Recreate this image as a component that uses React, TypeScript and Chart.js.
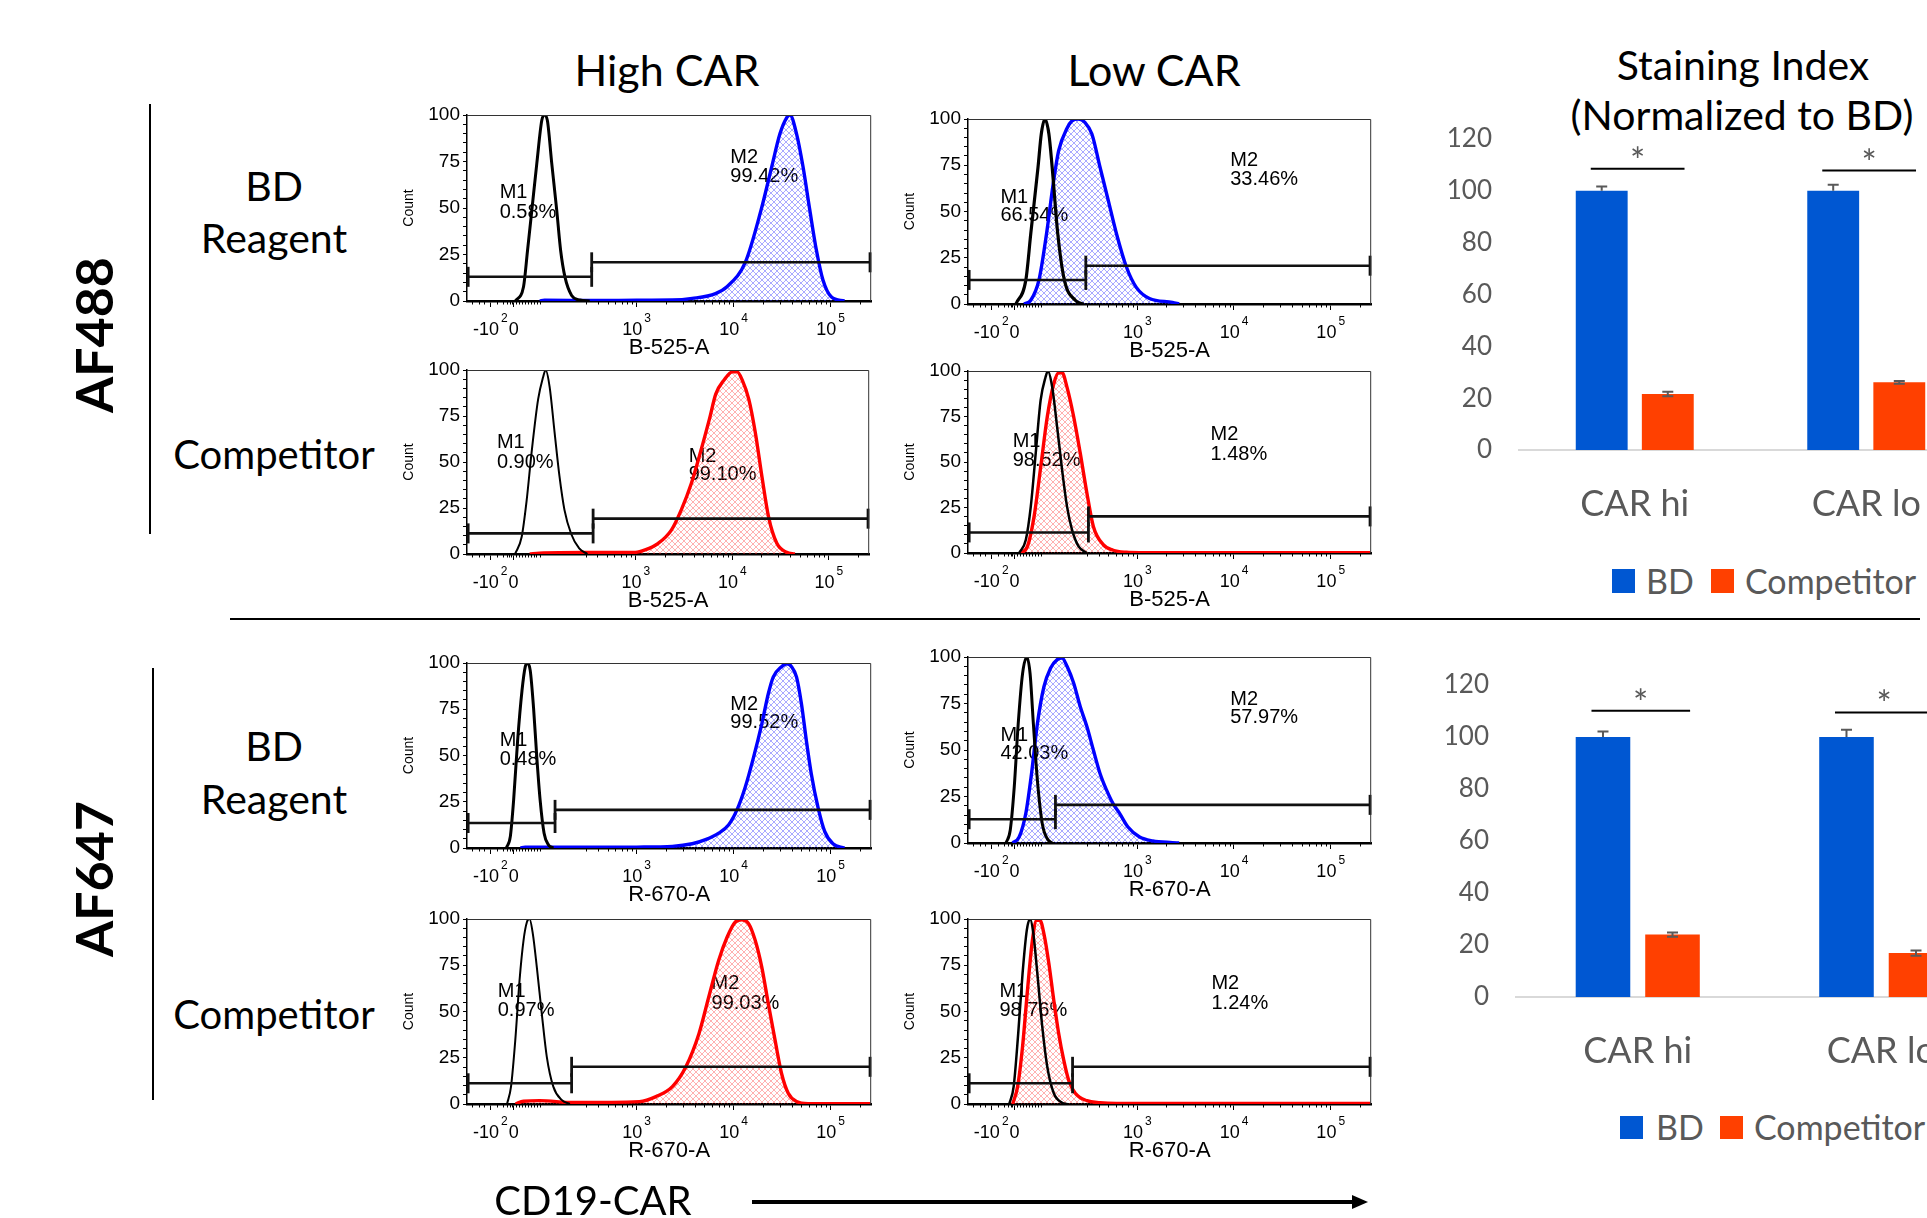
import React, { useEffect, useRef } from 'react';
import { Chart, registerables } from 'chart.js';

Chart.register(...registerables);

// ---------------- Histogram axis (biexponential display, in decades: 10^3 -> 3) ----------------
const X_MIN = 1.25;
const X_MAX = 5.4185;
const X_TICK_VALUES = [1.49, 1.731, 3, 4, 5];
const X_TICK_BASES = ['-10', '0', '10', '10', '10'];
const X_TICK_EXPONENTS = ['2', '', '3', '4', '5'];
const X_MINOR_TICKS = [1.3, 1.37, 1.43, 1.56, 1.62, 1.66, 1.69, 1.71, 1.76, 1.79, 1.82, 1.85, 1.88, 1.91, 1.94, 1.97, 2.004,
  2.48, 2.6, 2.699, 2.778, 2.845, 2.903, 2.954,
  3.301, 3.477, 3.602, 3.699, 3.778, 3.845, 3.903, 3.954,
  4.301, 4.477, 4.602, 4.699, 4.778, 4.845, 4.903, 4.954, 5.301];
const Y_TICKS = [0, 5, 10, 15, 20, 25, 30, 35, 40, 45, 50, 55, 60, 65, 70, 75, 80, 85, 90, 95, 100];
const Y_LABELLED = [0, 25, 50, 75, 100];

// ---------------- Histogram data: [axis position, count %] ----------------
const AF488_HI_BD_UNSTAINED = [[1.748, 0], [1.833, 7.7], [1.874, 27], [1.919, 49], [1.970, 74], [2.021, 97], [2.048, 100], [2.079, 97], [2.124, 74], [2.175, 49], [2.216, 27], [2.260, 13], [2.329, 3], [2.413, 0.5], [2.516, 0]];
const AF488_HI_BD_STAINED = [[2.0, 0], [2.05, 0.4], [2.6, 0.3], [3.0, 0.4], [3.368, 0.5], [3.573, 1.4], [3.813, 4], [3.931, 7.7], [4.120, 20.8], [4.283, 49], [4.392, 72], [4.478, 90], [4.546, 98.5], [4.580, 100], [4.648, 90], [4.716, 72], [4.785, 49], [4.853, 27.4], [4.921, 11.3], [5.006, 2.3], [5.143, 0]];
const AF488_LO_BD_UNSTAINED = [[1.745, 0], [1.848, 13], [1.899, 38], [1.974, 74], [2.008, 92], [2.045, 100], [2.086, 92], [2.120, 74], [2.178, 38], [2.246, 13], [2.359, 2], [2.444, 0]];
const AF488_LO_BD_STAINED = [[1.830, 0], [1.899, 2], [1.984, 13], [2.062, 38], [2.131, 65], [2.188, 83], [2.274, 95], [2.325, 99], [2.393, 100], [2.461, 98], [2.530, 92], [2.615, 74], [2.700, 56], [2.785, 38], [2.888, 20], [2.990, 9], [3.126, 3], [3.364, 0.9], [3.433, 0]];
const AF488_HI_COMP_UNSTAINED = [[1.748, 0], [1.817, 9.4], [1.868, 29], [1.919, 55], [1.987, 84], [2.038, 96], [2.065, 100], [2.106, 91], [2.158, 66], [2.209, 42], [2.260, 24], [2.329, 11], [2.413, 3], [2.498, 0]];
const AF488_HI_COMP_STAINED = [[1.9, 0], [2.0, 0.5], [2.5, 0.8], [2.994, 0.9], [3.096, 2.2], [3.232, 5.8], [3.368, 13], [3.471, 24], [3.573, 38], [3.676, 56.5], [3.761, 73], [3.829, 87], [3.915, 94.6], [4.0, 99], [4.051, 99], [4.102, 94.6], [4.171, 84], [4.238, 66], [4.307, 42], [4.376, 20], [4.461, 5.8], [4.563, 0.9], [4.648, 0]];
const AF488_LO_COMP_UNSTAINED = [[1.779, 0], [1.848, 7.3], [1.899, 25.5], [1.950, 54.7], [2.001, 84], [2.052, 96.7], [2.076, 100], [2.121, 91], [2.172, 69], [2.223, 45.6], [2.274, 25.5], [2.325, 12.8], [2.393, 3.6], [2.479, 0]];
const AF488_LO_COMP_STAINED = [[1.797, 0], [1.865, 3.6], [1.933, 20], [2.001, 47], [2.070, 75], [2.137, 93], [2.188, 99], [2.223, 99], [2.274, 91], [2.342, 75], [2.410, 55], [2.479, 33], [2.546, 14.6], [2.648, 4.6], [2.751, 1.5], [2.888, 0.4], [3.024, 0.2], [5.41, 0.2]];
const AF647_HI_BD_UNSTAINED = [[1.656, 0], [1.697, 6.3], [1.731, 26], [1.772, 58], [1.817, 85], [1.851, 98], [1.874, 100], [1.902, 96], [1.936, 76], [1.970, 49], [2.004, 26], [2.045, 8], [2.089, 1.8], [2.140, 0]];
const AF647_HI_BD_STAINED = [[1.8, 0], [1.85, 0.4], [2.5, 0.4], [3.0, 0.5], [3.368, 0.9], [3.573, 2.3], [3.710, 4.5], [3.846, 8], [3.949, 12.6], [4.034, 20.6], [4.120, 33], [4.205, 49], [4.290, 67], [4.358, 83.5], [4.409, 92.5], [4.494, 98], [4.546, 99.6], [4.597, 98], [4.648, 92.5], [4.699, 78], [4.750, 58], [4.801, 40], [4.870, 22], [4.939, 9], [5.024, 2.3], [5.143, 0]];
const AF647_LO_BD_UNSTAINED = [[1.643, 0], [1.687, 7], [1.728, 30], [1.769, 64], [1.814, 91], [1.858, 100], [1.892, 91], [1.926, 64], [1.967, 34], [2.018, 10.4], [2.070, 2.3], [2.121, 0]];
const AF647_LO_BD_STAINED = [[1.712, 0], [1.779, 3.2], [1.848, 16], [1.906, 37], [1.967, 64], [2.035, 84], [2.103, 94], [2.172, 98.6], [2.223, 99.5], [2.274, 95], [2.342, 86], [2.410, 73.4], [2.479, 62.6], [2.546, 50], [2.615, 37.4], [2.683, 28.4], [2.751, 21], [2.819, 15.8], [2.904, 8.6], [3.024, 3.2], [3.160, 1.1], [3.364, 0.2], [3.433, 0]];
const AF647_HI_COMP_UNSTAINED = [[1.663, 0], [1.704, 9.4], [1.748, 34.5], [1.792, 67], [1.833, 88.5], [1.868, 98.4], [1.895, 100], [1.929, 92], [1.970, 74], [2.021, 49], [2.073, 25.5], [2.140, 9.4], [2.226, 2.2], [2.311, 0]];
const AF647_HI_COMP_STAINED = [[1.75, 0], [1.833, 1.5], [2.0, 1.8], [2.345, 0.8], [3.028, 1.3], [3.199, 4], [3.368, 9.4], [3.506, 20], [3.642, 38], [3.744, 58], [3.846, 77.7], [3.931, 90], [4.017, 98.4], [4.085, 99.6], [4.154, 97.5], [4.222, 88.5], [4.290, 74], [4.358, 54], [4.427, 34.5], [4.494, 16.5], [4.563, 5.8], [4.648, 1.3], [4.768, 0.2], [5.41, 0.2]];
const AF647_LO_COMP_UNSTAINED = [[1.677, 0], [1.722, 9.4], [1.769, 38], [1.814, 70.5], [1.858, 94], [1.892, 100], [1.926, 92], [1.967, 70.5], [2.018, 41.7], [2.070, 20], [2.137, 5.8], [2.223, 0.7], [2.274, 0]];
const AF647_LO_COMP_STAINED = [[1.712, 0], [1.763, 9.4], [1.814, 31], [1.865, 61.5], [1.916, 88.5], [1.960, 99.3], [1.994, 99.3], [2.035, 92], [2.086, 76], [2.137, 56], [2.188, 38], [2.240, 23.7], [2.290, 13], [2.359, 5.8], [2.479, 1.8], [2.615, 0.7], [2.785, 0.3], [5.41, 0.3]];

// panels in row-major order
const UNSTAINED = [AF488_HI_BD_UNSTAINED, AF488_LO_BD_UNSTAINED, AF488_HI_COMP_UNSTAINED, AF488_LO_COMP_UNSTAINED, AF647_HI_BD_UNSTAINED, AF647_LO_BD_UNSTAINED, AF647_HI_COMP_UNSTAINED, AF647_LO_COMP_UNSTAINED];
const STAINED = [AF488_HI_BD_STAINED, AF488_LO_BD_STAINED, AF488_HI_COMP_STAINED, AF488_LO_COMP_STAINED, AF647_HI_BD_STAINED, AF647_LO_BD_STAINED, AF647_HI_COMP_STAINED, AF647_LO_COMP_STAINED];
const AXIS_TITLES = ['B-525-A', 'B-525-A', 'B-525-A', 'B-525-A', 'R-670-A', 'R-670-A', 'R-670-A', 'R-670-A'];
const M1_PERCENT = ['0.58%', '66.54%', '0.90%', '98.52%', '0.48%', '42.03%', '0.97%', '98.76%'];
const M2_PERCENT = ['99.42%', '33.46%', '99.10%', '1.48%', '99.52%', '57.97%', '99.03%', '1.24%'];
const GATE_SPLIT = [2.536, 2.468, 2.557, 2.495, 2.158, 2.154, 2.329, 2.331];
const M1_LEVEL = [13, 13, 11.2, 11.3, 13.5, 12.8, 11.2, 11.2];
const M2_LEVEL = [20.8, 20.7, 19.2, 20.1, 20.6, 20.5, 20.1, 20.1];

// layout / style of each histogram panel (plot-area rectangle in page px)
const PANEL_LAYOUT = [
  { L: 467, T: 115, W: 405, H: 186, color: 'blue', blackW: 3.0, m1: [1.587, 55.2, 44.5], m2: [3.966, 74.4, 64.1] },
  { L: 968, T: 119, W: 404, H: 185, color: 'blue', blackW: 3.2, m1: [1.585, 54.8, 45.0], m2: [3.961, 74.6, 64.3] },
  { L: 467, T: 370, W: 403, H: 184, color: 'red', blackW: 2.0, m1: [1.560, 57.4, 46.6], m2: [3.547, 50.2, 40.2] },
  { L: 968, T: 371, W: 404, H: 182, color: 'red', blackW: 2.5, m1: [1.712, 58.4, 47.8], m2: [3.757, 62.0, 51.1] },
  { L: 467, T: 663, W: 405, H: 185, color: 'blue', blackW: 3.0, m1: [1.587, 55.1, 44.9], m2: [3.966, 74.5, 64.7] },
  { L: 968, T: 657, W: 404, H: 186, color: 'blue', blackW: 3.0, m1: [1.585, 54.9, 45.1], m2: [3.961, 74.3, 64.4] },
  { L: 467, T: 919, W: 405, H: 185, color: 'red', blackW: 2.0, m1: [1.567, 57.6, 47.5], m2: [3.772, 61.9, 51.6] },
  { L: 968, T: 919, W: 404, H: 185, color: 'red', blackW: 2.5, m1: [1.575, 57.6, 47.5], m2: [3.767, 61.9, 51.6] },
];
const HIST_PAD_TOP = 18;

// ---------------- Staining index bar charts ----------------
const CATEGORIES = ['CAR hi', 'CAR lo'];
const AF488_BD = [100, 100];
const AF488_BD_ERR = [1.7, 2.3];
const AF488_COMP = [21.6, 26.1];
const AF488_COMP_ERR = [0.9, 0.5];
const AF488_SIG_LINE = [108.5, 107.8];
const AF488_SIG_STAR = [113.9, 113.2];
const AF647_BD = [100, 100];
const AF647_BD_ERR = [2.1, 2.8];
const AF647_COMP = [24.0, 16.9];
const AF647_COMP_ERR = [0.8, 1.0];
const AF647_SIG_LINE = [110.1, 109.4];
const AF647_SIG_STAR = [115.5, 114.9];
const BAR_TICKS_MAX = 120;

const BD_COLOR = '#0057D2';
const COMP_COLOR = '#FF4000';
const GREY = '#595959';
const LATO = 'Lato, "Open Sans", sans-serif';
const ARIAL = '"Liberation Sans", Arial, sans-serif';

const BAR_LAYOUT = [
  { L: 1519, T: 139, W: 463, H: 311 },
  { L: 1516, T: 685, W: 487, H: 312 },
];
const BAR_PAD_TOP = 46;

function hatch(color: string): CanvasPattern | string {
  const c = document.createElement('canvas');
  c.width = 6;
  c.height = 6;
  const g = c.getContext('2d');
  if (!g) return color;
  g.strokeStyle = color;
  g.lineWidth = 0.7;
  g.beginPath();
  g.moveTo(-1, -1);
  g.lineTo(7, 7);
  g.moveTo(7, -1);
  g.lineTo(-1, 7);
  g.stroke();
  return g.createPattern(c, 'repeat') || color;
}

function HistogramPanel({ index }: { index: number }) {
  const ref = useRef<HTMLCanvasElement>(null);
  const lay = PANEL_LAYOUT[index];
  useEffect(() => {
    if (!ref.current) return;
    const lineColor = lay.color === 'blue' ? '#0000FF' : '#FF0000';
    const pattern = hatch(lay.color === 'blue' ? 'rgba(50,50,255,0.6)' : 'rgba(255,50,50,0.55)');
    const decor = {
      id: 'histDecor',
      beforeDatasetsDraw(chart: any) {
        const { ctx, scales } = chart;
        const x = scales.x, y = scales.y;
        ctx.save();
        ctx.fillStyle = '#000';
        ctx.font = '20px ' + ARIAL;
        ctx.textAlign = 'left';
        ctx.textBaseline = 'alphabetic';
        ctx.fillText('M1', x.getPixelForValue(lay.m1[0]), y.getPixelForValue(lay.m1[1]));
        ctx.fillText(M1_PERCENT[index], x.getPixelForValue(lay.m1[0]), y.getPixelForValue(lay.m1[2]));
        ctx.fillText('M2', x.getPixelForValue(lay.m2[0]), y.getPixelForValue(lay.m2[1]));
        ctx.fillText(M2_PERCENT[index], x.getPixelForValue(lay.m2[0]), y.getPixelForValue(lay.m2[2]));
        ctx.restore();
      },
      afterDraw(chart: any) {
        const { ctx, chartArea: a, scales } = chart;
        const x = scales.x;
        ctx.save();
        // frame
        ctx.strokeStyle = '#333';
        ctx.lineWidth = 1;
        ctx.beginPath();
        ctx.moveTo(a.left, a.top + 0.5);
        ctx.lineTo(a.right - 0.5, a.top + 0.5);
        ctx.lineTo(a.right - 0.5, a.bottom);
        ctx.stroke();
        // minor ticks
        ctx.strokeStyle = '#000';
        ctx.beginPath();
        for (const v of X_MINOR_TICKS) {
          const px = Math.round(x.getPixelForValue(v)) + 0.5;
          ctx.moveTo(px, a.bottom);
          ctx.lineTo(px, a.bottom + 3.5);
        }
        ctx.stroke();
        // tick labels with superscript exponents
        ctx.fillStyle = '#000';
        ctx.textAlign = 'left';
        ctx.textBaseline = 'alphabetic';
        X_TICK_VALUES.forEach((v, i) => {
          const base = X_TICK_BASES[i];
          const exp = X_TICK_EXPONENTS[i];
          ctx.font = '18px ' + ARIAL;
          const wb = ctx.measureText(base).width;
          ctx.font = '12px ' + ARIAL;
          const we = exp ? ctx.measureText(exp).width + 2 : 0;
          const x0 = x.getPixelForValue(v) - (wb + we) / 2;
          ctx.font = '18px ' + ARIAL;
          ctx.fillText(base, x0, a.bottom + 34);
          if (exp) {
            ctx.font = '12px ' + ARIAL;
            ctx.fillText(exp, x0 + wb + 2, a.bottom + 21);
          }
        });
        // axis title
        ctx.font = '22px ' + ARIAL;
        ctx.textAlign = 'center';
        ctx.fillText(AXIS_TITLES[index], (a.left + a.right) / 2, a.bottom + 53);
        // y title
        ctx.translate(a.left - 58, (a.top + a.bottom) / 2);
        ctx.rotate(-Math.PI / 2);
        ctx.font = '14px ' + ARIAL;
        ctx.textBaseline = 'middle';
        ctx.fillText('Count', 0, 0);
        ctx.restore();
      },
    };
    const toXY = (arr: number[][]) => arr.map((p) => ({ x: p[0], y: p[1] }));
    const gateStyle = {
      borderColor: '#111',
      borderWidth: 2.6,
      pointStyle: 'line',
      pointRotation: 90,
      pointRadius: 10,
      pointHoverRadius: 10,
      pointBorderWidth: 2.8,
      pointBorderColor: '#111',
      fill: false,
      clip: false,
      tension: 0,
    };
    const chart = new Chart(ref.current, {
      type: 'line',
      data: {
        datasets: [
          { ...gateStyle, data: [{ x: X_MIN + 0.012, y: M1_LEVEL[index] }, { x: GATE_SPLIT[index], y: M1_LEVEL[index] }] },
          { ...gateStyle, data: [{ x: GATE_SPLIT[index], y: M2_LEVEL[index] }, { x: X_MAX - 0.012, y: M2_LEVEL[index] }] },
          { data: toXY(UNSTAINED[index]), borderColor: '#000', borderWidth: lay.blackW, pointRadius: 0, fill: false, cubicInterpolationMode: 'monotone' },
          { data: toXY(STAINED[index]), borderColor: lineColor, borderWidth: 3.4, pointRadius: 0, fill: 'origin', backgroundColor: pattern, cubicInterpolationMode: 'monotone' },
        ],
      } as any,
      options: {
        animation: false,
        responsive: false,
        events: [],
        layout: { padding: { left: 0, top: HIST_PAD_TOP, right: 12, bottom: 0 } },
        plugins: { legend: { display: false }, tooltip: { enabled: false } },
        scales: {
          x: {
            type: 'linear',
            min: X_MIN,
            max: X_MAX,
            afterBuildTicks: (s: any) => { s.ticks = X_TICK_VALUES.map((v) => ({ value: v })); },
            afterFit: (s: any) => { s.height = 80; },
            ticks: { display: false },
            grid: { drawOnChartArea: false, drawTicks: true, tickLength: 6, tickColor: '#000', tickWidth: 1 },
            border: { display: true, color: '#000', width: 2.5 },
          },
          y: {
            type: 'linear',
            min: 0,
            max: 100,
            afterBuildTicks: (s: any) => { s.ticks = Y_TICKS.map((v) => ({ value: v })); },
            afterFit: (s: any) => { s.width = 80; },
            ticks: {
              autoSkip: false,
              padding: 3,
              color: '#000',
              font: { family: ARIAL, size: 19 },
              callback: (v: any) => (Y_LABELLED.includes(Number(v)) ? String(v) : ''),
            },
            grid: { drawOnChartArea: false, drawTicks: true, tickLength: 4, tickColor: '#000', tickWidth: 1 },
            border: { display: true, color: '#000', width: 1.5 },
          },
        },
      } as any,
      plugins: [decor],
    });
    return () => chart.destroy();
  }, [index]);
  return (
    <canvas
      ref={ref}
      width={lay.W + 92}
      height={lay.H + 80 + HIST_PAD_TOP}
      style={{ position: 'absolute', left: lay.L - 80, top: lay.T - HIST_PAD_TOP, width: lay.W + 92, height: lay.H + 80 + HIST_PAD_TOP }}
    />
  );
}

function BarPanel({ which }: { which: number }) {
  const ref = useRef<HTMLCanvasElement>(null);
  const lay = BAR_LAYOUT[which];
  useEffect(() => {
    if (!ref.current) return;
    const bd = which === 0 ? AF488_BD : AF647_BD;
    const bdErr = which === 0 ? AF488_BD_ERR : AF647_BD_ERR;
    const comp = which === 0 ? AF488_COMP : AF647_COMP;
    const compErr = which === 0 ? AF488_COMP_ERR : AF647_COMP_ERR;
    const sigLine = which === 0 ? AF488_SIG_LINE : AF647_SIG_LINE;
    const sigStar = which === 0 ? AF488_SIG_STAR : AF647_SIG_STAR;
    const decor = {
      id: 'barDecor',
      afterDatasetsDraw(chart: any) {
        const { ctx, scales } = chart;
        const x = scales.x, y = scales.y;
        ctx.save();
        ctx.strokeStyle = GREY;
        ctx.lineWidth = 2;
        const cap = 5.5;
        const drawErr = (px: number, v: number, e: number, both: boolean) => {
          const top = y.getPixelForValue(v + e);
          const bot = y.getPixelForValue(both ? v - e : v);
          ctx.beginPath();
          ctx.moveTo(px, top);
          ctx.lineTo(px, bot);
          ctx.moveTo(px - cap, top);
          ctx.lineTo(px + cap, top);
          if (both) {
            ctx.moveTo(px - cap, bot);
            ctx.lineTo(px + cap, bot);
          }
          ctx.stroke();
        };
        chart.getDatasetMeta(0).data.forEach((bar: any, j: number) => drawErr(bar.x, bd[j], bdErr[j], false));
        chart.getDatasetMeta(1).data.forEach((bar: any, j: number) => drawErr(bar.x, comp[j], compErr[j], true));
        const cw = x.getPixelForValue(1) - x.getPixelForValue(0);
        CATEGORIES.forEach((_, j) => {
          const cx = x.getPixelForValue(j);
          const py = y.getPixelForValue(sigLine[j]);
          ctx.strokeStyle = '#000';
          ctx.lineWidth = 2;
          ctx.beginPath();
          ctx.moveTo(cx - 0.19 * cw, py);
          ctx.lineTo(cx + 0.215 * cw, py);
          ctx.stroke();
          ctx.fillStyle = GREY;
          ctx.font = '36px ' + LATO;
          ctx.textAlign = 'center';
          ctx.textBaseline = 'alphabetic';
          ctx.fillText('*', cx + 0.012 * cw, y.getPixelForValue(sigStar[j]) + 19);
        });
        ctx.restore();
      },
    };
    const chart = new Chart(ref.current, {
      type: 'bar',
      data: {
        labels: CATEGORIES,
        datasets: [
          { label: 'BD', data: bd, backgroundColor: BD_COLOR, borderWidth: 0, barPercentage: 0.785, categoryPercentage: 0.571 },
          { label: 'Competitor', data: comp, backgroundColor: COMP_COLOR, borderWidth: 0, barPercentage: 0.785, categoryPercentage: 0.571 },
        ],
      },
      options: {
        animation: false,
        responsive: false,
        events: [],
        layout: { padding: { left: 0, top: BAR_PAD_TOP, right: 10, bottom: 0 } },
        plugins: { legend: { display: false }, tooltip: { enabled: false } },
        scales: {
          x: {
            afterFit: (s: any) => { s.height = 100; },
            ticks: { color: GREY, font: { family: LATO, size: 36 }, padding: 33 },
            grid: { display: true, drawOnChartArea: false, drawTicks: false },
            border: { display: true, color: '#D9D9D9', width: 2 },
          },
          y: {
            min: 0,
            max: BAR_TICKS_MAX,
            afterFit: (s: any) => { s.width = 90; },
            ticks: { stepSize: 20, color: GREY, font: { family: LATO, size: 26 }, padding: 27 },
            grid: { display: false, drawTicks: false },
            border: { display: false },
          },
        },
      } as any,
      plugins: [decor],
    });
    return () => chart.destroy();
  }, [which]);
  return (
    <canvas
      ref={ref}
      width={lay.W + 100}
      height={lay.H + 100 + BAR_PAD_TOP}
      style={{ position: 'absolute', left: lay.L - 90, top: lay.T - BAR_PAD_TOP, width: lay.W + 100, height: lay.H + 100 + BAR_PAD_TOP }}
    />
  );
}

function Txt({ x, baseline, size, children, weight = 400, color = '#000', align = 'center' }: any) {
  const style: React.CSSProperties = {
    position: 'absolute',
    left: x,
    top: baseline - 0.887 * size,
    fontFamily: LATO,
    fontSize: size,
    fontWeight: weight,
    lineHeight: 1,
    color,
    whiteSpace: 'nowrap',
    transform: align === 'center' ? 'translateX(-50%)' : undefined,
  };
  return <div style={style}>{children}</div>;
}

function Rotated({ cx, cy, children }: any) {
  return (
    <div
      style={{
        position: 'absolute', left: cx, top: cy, transform: 'translate(-50%,-50%) rotate(-90deg)',
        fontFamily: LATO, fontSize: 52, fontWeight: 700, lineHeight: 1, whiteSpace: 'nowrap', color: '#000',
      }}
    >
      {children}
    </div>
  );
}

function Box({ l, t, w, h, bg }: any) {
  return <div style={{ position: 'absolute', left: l, top: t, width: w, height: h, background: bg }} />;
}

export default function App() {
  return (
    <div style={{ position: 'absolute', left: 0, top: 0, width: 1927, height: 1218, overflow: 'hidden', background: '#fff' }}>
      {/* column titles */}
      <Txt x={667} baseline={86} size={43}>High CAR</Txt>
      <Txt x={1154} baseline={86} size={43}>Low CAR</Txt>
      <Txt x={1743} baseline={80} size={41}>Staining Index</Txt>
      <Txt x={1742} baseline={130} size={41}>(Normalized to BD)</Txt>

      {/* row labels */}
      <Rotated cx={93} cy={335}>AF488</Rotated>
      <Rotated cx={93} cy={879}>AF647</Rotated>
      <Txt x={274} baseline={201} size={41}>BD</Txt>
      <Txt x={274} baseline={253} size={41}>Reagent</Txt>
      <Txt x={274} baseline={469} size={40}>Competitor</Txt>
      <Txt x={274} baseline={761} size={41}>BD</Txt>
      <Txt x={274} baseline={814} size={41}>Reagent</Txt>
      <Txt x={274} baseline={1029} size={40}>Competitor</Txt>

      {/* separators */}
      <Box l={149} t={104} w={2} h={430} bg="#000" />
      <Box l={152} t={668} w={2} h={432} bg="#000" />
      <Box l={230} t={618} w={1690} h={2} bg="#000" />

      {PANEL_LAYOUT.map((_, i) => <HistogramPanel key={i} index={i} />)}
      <BarPanel which={0} />
      <BarPanel which={1} />

      {/* legends */}
      <Box l={1612} t={569} w={23} h={24} bg={BD_COLOR} />
      <Txt x={1646} baseline={594} size={34} color={GREY} align="left">BD</Txt>
      <Box l={1711} t={569} w={23} h={24} bg={COMP_COLOR} />
      <Txt x={1745} baseline={594} size={34} color={GREY} align="left">Competitor</Txt>
      <Box l={1620} t={1116} w={23} h={23} bg={BD_COLOR} />
      <Txt x={1656} baseline={1140} size={34} color={GREY} align="left">BD</Txt>
      <Box l={1720} t={1116} w={23} h={23} bg={COMP_COLOR} />
      <Txt x={1754} baseline={1140} size={34} color={GREY} align="left">Competitor</Txt>

      {/* bottom axis label and arrow */}
      <Txt x={593} baseline={1215} size={40}>CD19-CAR</Txt>
      <Box l={752} t={1200} w={602} h={4} bg="#000" />
      <div
        style={{
          position: 'absolute', left: 1352, top: 1194.5, width: 0, height: 0,
          borderLeft: '16px solid #000', borderTop: '7.5px solid transparent', borderBottom: '7.5px solid transparent',
        }}
      />
    </div>
  );
}
